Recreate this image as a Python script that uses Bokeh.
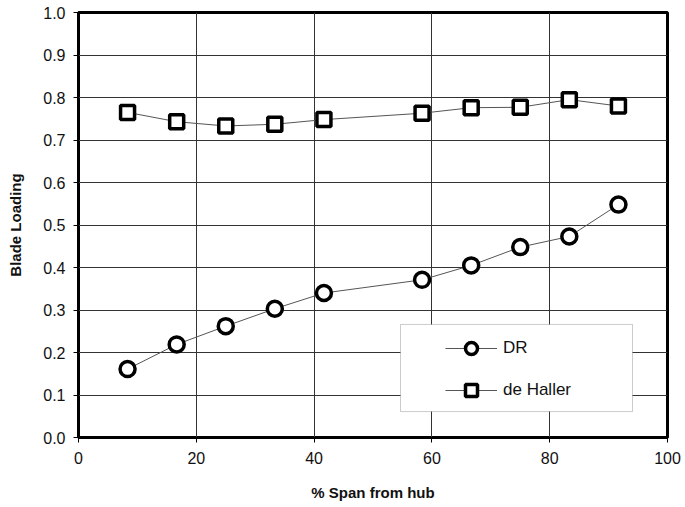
from bokeh.plotting import figure
from bokeh.models import Legend, LegendItem, BoxAnnotation, FixedTicker, Range1d, CustomJSTickFormatter
from bokeh.embed import file_html
from bokeh.resources import INLINE

# ---- data ----
span = [8.33, 16.67, 25.0, 33.33, 41.67, 58.33, 66.67, 75.0, 83.33, 91.67]
dr = [0.161, 0.219, 0.262, 0.303, 0.340, 0.371, 0.405, 0.448, 0.473, 0.548]
de_haller = [0.765, 0.743, 0.733, 0.737, 0.748, 0.763, 0.776, 0.777, 0.795, 0.780]
x_ticks = [0, 20, 40, 60, 80, 100]
y_ticks = [0.0, 0.1, 0.2, 0.3, 0.4, 0.5, 0.6, 0.7, 0.8, 0.9, 1.0]

FONT = "Liberation Sans"

p = figure(width=685, height=507, output_backend="svg", toolbar_location=None,
           x_range=Range1d(0, 100), y_range=Range1d(0, 1.0),
           min_border_left=78, min_border_right=18, min_border_top=12, min_border_bottom=70)

p.outline_line_color = "black"
p.outline_line_width = 3
p.background_fill_color = "white"
p.border_fill_color = "white"

for ax in (p.xaxis[0], p.yaxis[0]):
    ax.axis_line_color = None
    ax.major_tick_line_color = "black"
    ax.major_tick_line_width = 1
    ax.major_tick_out = 5
    ax.major_tick_in = 0
    ax.minor_tick_line_color = None
    ax.major_label_text_font = FONT
    ax.major_label_text_font_size = "16px"
    ax.major_label_text_color = "#111111"
    ax.axis_label_text_font = FONT
    ax.axis_label_text_font_size = "15px"
    ax.axis_label_text_font_style = "bold"
    ax.axis_label_text_color = "#111111"

p.xaxis.ticker = FixedTicker(ticks=x_ticks)
p.yaxis.ticker = FixedTicker(ticks=y_ticks)
p.yaxis.formatter = CustomJSTickFormatter(code="return tick.toFixed(1);")
p.xaxis.major_label_standoff = 9
p.yaxis.major_label_standoff = 8
p.xaxis.axis_label = "% Span from hub"
p.yaxis.axis_label = "Blade Loading"
p.xaxis.axis_label_standoff = 17
p.yaxis.axis_label_standoff = 16

p.xgrid.ticker = FixedTicker(ticks=x_ticks)
p.ygrid.ticker = FixedTicker(ticks=y_ticks)
for g in (p.xgrid[0], p.ygrid[0]):
    g.grid_line_color = "#333333"
    g.grid_line_width = 1

line_col = "#555555"
l1 = p.line(span, dr, line_color=line_col, line_width=1)
m1 = p.scatter(span, dr, marker="circle", size=15, fill_color="white",
               line_color="black", line_width=3.5)
l2 = p.line(span, de_haller, line_color=line_col, line_width=1)
m2 = p.scatter(span, de_haller, marker="square", size=14, fill_color="white",
               line_color="black", line_width=3.5)

# legend box (layout decoration)
box = BoxAnnotation(left=54.67, right=94.06, bottom=0.061, top=0.266,
                    fill_color="white", fill_alpha=1.0,
                    line_color="#555555", line_width=1, level="annotation")
p.add_layout(box)

legend = Legend(items=[LegendItem(label="DR", renderers=[l1, m1]),
                       LegendItem(label="de Haller", renderers=[l2, m2])],
                location=(367, 32), padding=0, margin=0,
                border_line_color=None, background_fill_alpha=0,
                glyph_width=52, glyph_height=30, spacing=12, label_standoff=6,
                label_text_font=FONT, label_text_font_size="17px",
                label_text_color="#111111")
p.add_layout(legend, "center")

open("out.html", "w").write(file_html(p, INLINE))
